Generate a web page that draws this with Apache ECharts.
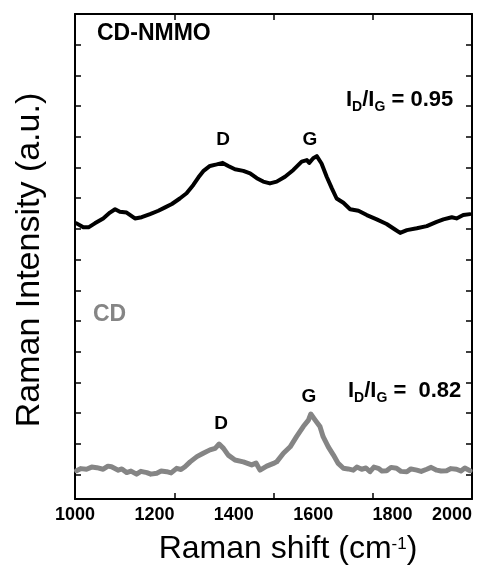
<!DOCTYPE html>
<html>
<head>
<meta charset="utf-8">
<script src="https://cdn.jsdelivr.net/npm/echarts@6/dist/echarts.min.js"></script>
<style>
  html, body { margin: 0; padding: 0; background: #fff; }
  #chart { width: 489px; height: 577px; }
</style>
</head>
<body>
<div id="chart"></div>
<script>
// Raman spectra of CD-NMMO (top, black) and CD (bottom, grey)
const cdNmmoShift = [1004, 1021, 1034, 1050, 1071, 1088, 1101, 1113, 1130, 1151, 1168, 1189, 1210, 1227, 1244,
  1264, 1281, 1298, 1311, 1323, 1340, 1357, 1372, 1386, 1403, 1424, 1441, 1458, 1474, 1491, 1508, 1529,
  1550, 1571, 1584, 1590, 1600, 1609, 1621, 1634, 1647, 1659, 1676, 1693, 1714, 1735, 1760, 1785, 1806,
  1819, 1836, 1861, 1886, 1911, 1928, 1949, 1961, 1978, 1995];
const cdNmmoIntensity = [9.18, 9.05, 9.05, 9.18, 9.34, 9.53, 9.64, 9.56, 9.53, 9.34, 9.38, 9.48, 9.59, 9.70, 9.81,
  9.99, 10.16, 10.43, 10.68, 10.88, 11.05, 11.10, 11.15, 11.05, 10.94, 10.89, 10.81, 10.65, 10.54, 10.48, 10.54, 10.70,
  10.92, 11.19, 11.24, 11.15, 11.30, 11.37, 11.13, 10.70, 10.32, 9.99, 9.85, 9.64, 9.59, 9.45, 9.31, 9.16, 8.98,
  8.87, 8.96, 9.02, 9.09, 9.23, 9.31, 9.38, 9.34, 9.45, 9.48];

const cdShift = [1004, 1015, 1029, 1042, 1055, 1071, 1083, 1092, 1109, 1118, 1130, 1141, 1155, 1166, 1181, 1191,
  1206, 1217, 1231, 1242, 1256, 1267, 1277, 1290, 1307, 1323, 1340, 1353, 1363, 1374, 1386, 1403, 1424, 1445,
  1456, 1466, 1483, 1500, 1508, 1525, 1542, 1558, 1575, 1588, 1594, 1605, 1617, 1625, 1638, 1651, 1663, 1676,
  1688, 1701, 1710, 1722, 1733, 1743, 1753, 1764, 1773, 1785, 1796, 1810, 1821, 1836, 1846, 1861, 1872, 1886,
  1897, 1911, 1922, 1936, 1947, 1961, 1972, 1982, 1995];
const cdIntensity = [1.12, 1.19, 1.17, 1.24, 1.22, 1.17, 1.27, 1.25, 1.14, 1.18, 1.06, 1.11, 1.01, 1.10, 1.06, 1.01,
  1.04, 1.11, 1.09, 1.05, 1.20, 1.16, 1.25, 1.41, 1.58, 1.69, 1.80, 1.85, 1.99, 1.85, 1.63, 1.47, 1.41, 1.31,
  1.37, 1.14, 1.27, 1.36, 1.41, 1.69, 1.90, 2.23, 2.56, 2.77, 2.97, 2.77, 2.56, 2.23, 1.90, 1.63, 1.36, 1.20,
  1.18, 1.14, 1.24, 1.17, 1.21, 1.09, 1.24, 1.20, 1.11, 1.12, 1.23, 1.20, 1.10, 1.09, 1.18, 1.14, 1.10, 1.17,
  1.23, 1.14, 1.11, 1.12, 1.19, 1.17, 1.11, 1.21, 1.12];

const shiftLabels = [1000, 1200, 1400, 1600, 1800, 2000];
const shiftTicks = [1250, 1500, 1750];
const intensityTicks = [1, 2, 3, 4, 5, 6, 7, 8, 9, 10, 11, 12, 13, 14, 15];

const FONT = 'Liberation Sans, Arial, Helvetica, sans-serif';

const pair = (xs, ys) => xs.map((x, i) => [x, ys[i]]);

const frameX = (pos, labels) => ({
  type: 'value', min: 1000, max: 2000, position: pos,
  axisLine: { show: true, onZero: false, lineStyle: { color: '#000', width: 2 } },
  axisTick: { show: true, inside: true, length: 6, customValues: shiftTicks, lineStyle: { color: '#000', width: 1.5 } },
  axisLabel: labels ? {
    show: true, customValues: shiftLabels, margin: 7, color: '#000',
    fontFamily: FONT, fontWeight: 'bold', fontSize: 18,
    formatter: (v) => String(v),
    alignMaxLabel: 'right'
  } : { show: false },
  splitLine: { show: false }
});

const frameY = (pos) => ({
  type: 'value', min: 0.2, max: 16, position: pos,
  axisLine: { show: true, onZero: false, lineStyle: { color: '#000', width: 2 } },
  axisTick: { show: true, inside: true, length: 6, customValues: intensityTicks, lineStyle: { color: '#000', width: 1.5 } },
  axisLabel: { show: false },
  splitLine: { show: false }
});

const ratioRich = (color) => ({
  m: { fontFamily: FONT, fontWeight: 'bold', fontSize: 22, color: color, lineHeight: 24, verticalAlign: 'top' },
  s: { fontFamily: FONT, fontWeight: 'bold', fontSize: 14, color: color, lineHeight: 14, verticalAlign: 'top', padding: [11, 0, 0, 0] }
});

const chart = echarts.init(document.getElementById('chart'), null, { renderer: 'canvas' });
chart.setOption({
  animation: false,
  backgroundColor: '#fff',
  grid: { left: 75, right: 17, top: 14, bottom: 78, containLabel: false },
  xAxis: [frameX('bottom', true), frameX('top', false)],
  yAxis: [frameY('left'), frameY('right')],
  series: [
    {
      name: 'CD-NMMO', type: 'line', xAxisIndex: 0, yAxisIndex: 0,
      data: pair(cdNmmoShift, cdNmmoIntensity),
      showSymbol: false, smooth: false,
      lineStyle: { color: '#000', width: 4, join: 'round', cap: 'round' }
    },
    {
      name: 'CD', type: 'line', xAxisIndex: 0, yAxisIndex: 0,
      data: pair(cdShift, cdIntensity),
      showSymbol: false, smooth: false,
      lineStyle: { color: '#858585', width: 5, join: 'round', cap: 'round' }
    }
  ],
  graphic: [
    { type: 'text', x: 97, y: 34, style: { text: 'CD-NMMO', font: 'bold 23px ' + FONT, fill: '#000', align: 'left', verticalAlign: 'middle' } },
    { type: 'text', x: 93, y: 315, style: { text: 'CD', font: 'bold 23px ' + FONT, fill: '#858585', align: 'left', verticalAlign: 'middle' } },
    { type: 'text', x: 223, y: 140, style: { text: 'D', font: 'bold 19px ' + FONT, fill: '#000', align: 'center', verticalAlign: 'middle' } },
    { type: 'text', x: 310, y: 140, style: { text: 'G', font: 'bold 19px ' + FONT, fill: '#000', align: 'center', verticalAlign: 'middle' } },
    { type: 'text', x: 221, y: 424, style: { text: 'D', font: 'bold 19px ' + FONT, fill: '#000', align: 'center', verticalAlign: 'middle' } },
    { type: 'text', x: 309, y: 397, style: { text: 'G', font: 'bold 19px ' + FONT, fill: '#000', align: 'center', verticalAlign: 'middle' } },
    { type: 'text', x: 346, y: 89, style: { text: '{m|I}{s|D}{m|/I}{s|G}{m| = 0.95}', rich: ratioRich('#000'), align: 'left', verticalAlign: 'top' } },
    { type: 'text', x: 348, y: 380, style: { text: '{m|I}{s|D}{m|/I}{s|G}{m| =  0.82}', rich: ratioRich('#000'), align: 'left', verticalAlign: 'top' } },
    {
      type: 'text', x: 288, y: 533,
      style: {
        text: '{t|Raman shift (cm}{p|-1}{t|)}',
        rich: {
          t: { fontFamily: FONT, fontSize: 32, color: '#000', lineHeight: 36, verticalAlign: 'top' },
          p: { fontFamily: FONT, fontSize: 17, color: '#000', lineHeight: 17, verticalAlign: 'top', padding: [3, 0, 0, 0] }
        },
        align: 'center', verticalAlign: 'top'
      }
    },
    {
      type: 'text', x: 30, y: 260, rotation: Math.PI / 2,
      style: { text: 'Raman Intensity (a.u.)', font: '34px ' + FONT, fill: '#000', align: 'center', verticalAlign: 'middle' }
    }
  ]
});
</script>
</body>
</html>
